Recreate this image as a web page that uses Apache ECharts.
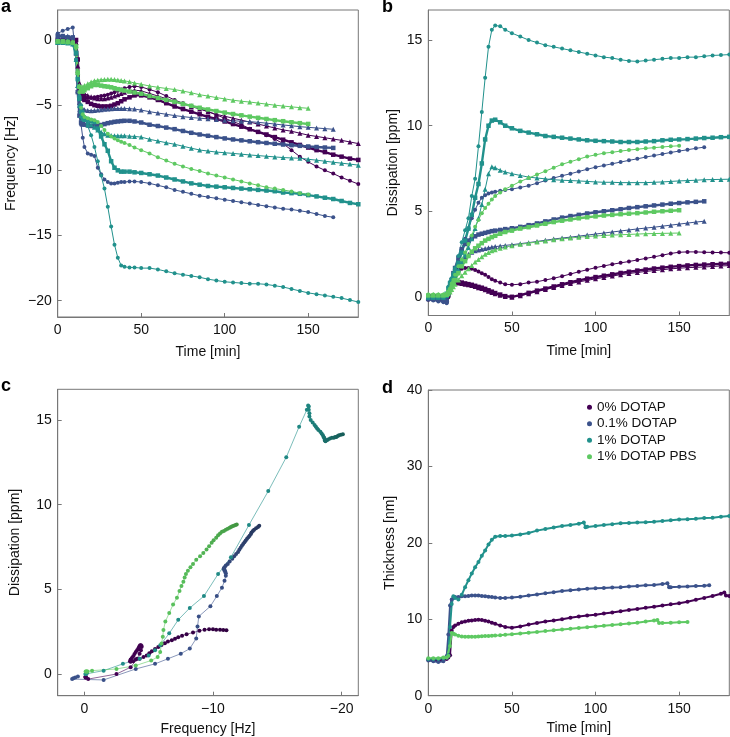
<!DOCTYPE html>
<html><head><meta charset="utf-8">
<script src="https://cdn.jsdelivr.net/npm/echarts@6/dist/echarts.min.js"></script>
<style>html,body{margin:0;padding:0;background:#fff}#c{width:730px;height:737px}</style>
</head><body><div id="c"></div>
<script>
// ---------- shared time grid (min) for panels a, b, c ----------
const time = [0,3,6,9,11, 12,13,14,15,16, 18,20,22,24,26,28, 30,32,34,36,38,40, 43,46,50,55,60, 65,70,75,80,85, 90,95,100,105,110, 115,120,125,130,135, 140,145,150, 155,160,165, 170,175,180];

// ---------- 0% DOTAP ----------
const f0_r1 = [-0.1,-0.1,-0.1,-0.1,-0.3, -2.5,-3.6,-4.1,-4.3,-4.4, -4.45,-4.45,-4.4,-4.35,-4.3,-4.25, -4.2,-4.1,-4.0,-3.9,-3.8,-3.7, -3.6,-3.55,-3.6,-3.8,-4.0, -4.3,-4.6,-4.85,-5.05,-5.25, -5.5,-5.75,-6.0,-6.26,-6.5, -6.8,-7.05,-7.3,-7.6,-7.95, -8.45,-8.95,-9.35, -9.7,-10.0,-10.25, -10.55,-10.8,-11.05];
const d0_r1 = [-0.15,-0.15,-0.2,-0.2,-0.3, 0.0,0.4,0.9,1.2,1.4, 1.6,1.66,1.7,1.7,1.65,1.58, 1.5,1.4,1.3,1.18,1.05,0.95, 0.85,0.76,0.72,0.76,0.85, 0.9,1.0,1.1,1.22,1.35, 1.48,1.6,1.72,1.82,1.92, 2.0,2.08,2.17,2.26,2.35, 2.45,2.55,2.62, 2.64,2.64,2.62, 2.61,2.6,2.59];
const f0_r2 = [0,0,0,0,0, -1.5,-3.8,-4.3,-4.5,-4.6, -4.75,-4.9,-5.0,-5.05,-5.1,-5.1, -5.1,-5.05,-4.95,-4.85,-4.7,-4.55, -4.4,-4.25,-4.25,-4.4,-4.6, -4.85,-5.1,-5.3,-5.5,-5.7, -5.9,-6.05,-6.25,-6.45,-6.65, -6.85,-7.05,-7.25,-7.45,-7.65, -7.85,-8.05,-8.25, -8.45,-8.6,-8.8, -8.95,-9.1,-9.2];
const d0_r2 = [0.05,0.05,0.0,0.0,-0.05, 0.2,0.5,0.75,0.85,0.9, 0.88,0.85,0.8,0.76,0.72,0.66, 0.6,0.55,0.48,0.4,0.32,0.24, 0.15,0.06,0.02,0.12,0.25, 0.38,0.5,0.62,0.75,0.87, 0.98,1.08,1.17,1.25,1.33, 1.41,1.48,1.55,1.61,1.67, 1.72,1.77,1.81, 1.85,1.88,1.9, 1.92,1.94,1.96];
const f0_r3 = [0.05,0.05,0.0,0.0,-0.2, -2.0,-3.3,-3.8,-4.0,-4.1, -4.25,-4.35,-4.45,-4.5,-4.5,-4.5, -4.45,-4.4,-4.3,-4.2,-4.1,-4.0, -3.9,-3.85,-3.9,-4.1,-4.3, -4.5,-4.7,-4.9,-5.1,-5.3, -5.5,-5.7,-5.85,-6.0,-6.15, -6.3,-6.45,-6.6,-6.75,-6.9, -7.0,-7.15,-7.3, -7.4,-7.5,-7.6, -7.7,-7.82,-7.95];
const d0_r3 = [0.0,0.0,-0.05,-0.05,-0.1, 0.15,0.45,0.7,0.8,0.85, 0.83,0.8,0.76,0.72,0.68,0.62, 0.55,0.5,0.43,0.35,0.27,0.2, 0.11,0.04,0.0,0.08,0.2, 0.32,0.44,0.56,0.68,0.79, 0.89,0.98,1.07,1.15,1.23, 1.31,1.38,1.44,1.5,1.55, 1.6,1.65,1.69, 1.72,1.74,1.76, 1.79,1.82,1.84];

// ---------- 0.1% DOTAP (ends at 165 min) ----------
const f1_r1 = [0.5,0.7,0.85,0.95,-1.5, -4.0,-5.5,-6.5,-7.5,-8.2, -8.7,-8.8,-8.9,-9.8,-10.3,-10.7, -10.9,-11.0,-11.0,-10.95,-10.9,-10.9, -10.85,-10.85,-10.9,-11.0,-11.15, -11.3,-11.5,-11.65,-11.8,-11.95, -12.05,-12.15,-12.25,-12.35,-12.45, -12.55,-12.65,-12.75,-12.85,-12.95, -13.0,-13.1,-13.2, -13.35,-13.5,-13.6];
const d1_r1 = [-0.15,-0.2,-0.25,-0.3,-0.35, 0.3,0.6,0.9,1.2,1.5, 2.1,2.8,3.4,4.0,4.6,5.1, 5.5,5.8,5.95,6.05,6.1,6.15, 6.2,6.25,6.3,6.4,6.5, 6.65,6.8,6.95,7.08,7.2, 7.33,7.46,7.58,7.68,7.78, 7.88,7.98,8.07,8.17,8.26, 8.35,8.44,8.52, 8.6,8.68,8.75];
const f1_r2 = [0.3,0.3,0.2,0.2,-1.0, -4.0,-5.8,-6.33,-6.45,-6.5, -6.55,-6.6,-6.6,-6.58,-6.52,-6.45, -6.38,-6.33,-6.28,-6.25,-6.22,-6.2, -6.2,-6.25,-6.33,-6.5,-6.6, -6.72,-6.84,-6.98,-7.12,-7.25, -7.35,-7.45,-7.55,-7.63,-7.7, -7.77,-7.84,-7.9,-7.96,-8.02, -8.07,-8.12,-8.17, -8.21,-8.25,-8.28];
const d1_r2 = [-0.1,-0.12,-0.15,-0.18,-0.2, 0.2,0.6,1.0,1.4,1.7, 2.3,2.8,3.1,3.3,3.45,3.55, 3.65,3.7,3.75,3.8,3.85,3.88, 3.92,3.97,4.02,4.1,4.2, 4.3,4.42,4.53,4.64,4.73, 4.8,4.88,4.95,5.01,5.07, 5.13,5.2,5.25,5.3,5.35, 5.4,5.45,5.49, 5.53,5.56,5.59];
const f1_r3 = [0.2,0.3,0.3,0.2,-1.0, -3.5,-4.8,-5.2,-5.3,-5.35, -5.4,-5.42,-5.4,-5.38,-5.35,-5.32, -5.3,-5.28,-5.26,-5.25,-5.25,-5.25, -5.27,-5.3,-5.38,-5.5,-5.6, -5.7,-5.8,-5.88,-5.95,-6.0, -6.05,-6.1,-6.15,-6.2,-6.23, -6.26,-6.32,-6.38,-6.45,-6.52, -6.58,-6.65,-6.7, -6.75,-6.8,-6.85];
const d1_r3 = [-0.05,-0.05,-0.08,-0.1,-0.1, 0.2,0.5,0.8,1.0,1.2, 1.6,2.0,2.3,2.5,2.62,2.7, 2.75,2.8,2.84,2.88,2.92,2.95, 2.98,3.02,3.06,3.12,3.18, 3.25,3.32,3.39,3.45,3.5, 3.56,3.62,3.68,3.74,3.8, 3.86,3.92,3.98,4.03,4.08, 4.14,4.2,4.26, 4.32,4.38,4.43];

// ---------- 1% DOTAP ----------
const f2_r1 = [-0.1,-0.1,-0.1,-0.2,-1.5, -3.0,-4.3,-5.0,-5.5,-5.9, -6.6,-7.3,-8.2,-9.3,-10.4,-11.4, -12.8,-14.3,-15.7,-16.7,-17.3,-17.4, -17.45,-17.45,-17.5,-17.5,-17.6, -17.75,-17.9,-18.0,-18.1,-18.2, -18.35,-18.45,-18.55,-18.6,-18.65, -18.7,-18.7,-18.75,-18.85,-18.95, -19.1,-19.25,-19.4, -19.5,-19.6,-19.7, -19.8,-19.95,-20.1];
const d2_r1 = [0.0,0.0,0.0,0.05,0.2, 0.6,0.9,1.1,1.4,1.7, 2.4,3.2,3.9,4.6,5.9,6.9, 8.8,10.8,12.8,14.6,15.6,15.85, 15.8,15.6,15.4,15.2,15.0, 14.85,14.7,14.6,14.5,14.4, 14.3,14.2,14.1,14.0,13.95, 13.85,13.78,13.75,13.8,13.85, 13.9,13.95,13.95, 14.0,14.0,14.05, 14.1,14.12,14.15];
const f2_r2 = [-0.2,-0.2,-0.25,-0.3,-1.0, -3.0,-4.5,-5.5,-5.9,-6.0, -6.1,-6.2,-6.3,-6.8,-7.4,-8.0, -8.5,-9.3,-9.8,-10.0,-10.1,-10.1, -10.1,-10.15,-10.2,-10.3,-10.4, -10.55,-10.7,-10.85,-11.0,-11.1, -11.2,-11.25,-11.3,-11.35,-11.4, -11.45,-11.5,-11.55,-11.6,-11.7, -11.75,-11.8,-11.9, -12.0,-12.1,-12.2, -12.35,-12.5,-12.6];
const d2_r2 = [0.0,0.0,0.0,0.05,0.2, 0.5,0.8,1.0,1.2,1.5, 2.0,2.6,3.3,4.0,4.8,5.8, 6.6,7.8,9.2,10.0,10.3,10.35, 10.2,10.0,9.85,9.7,9.6, 9.5,9.4,9.35,9.3,9.25, 9.2,9.15,9.12,9.1,9.08, 9.05,9.05,9.05,9.08,9.1, 9.15,9.18,9.2, 9.22,9.25,9.28, 9.3,9.33,9.35];
const f2_r3 = [-0.2,-0.2,-0.2,-0.3,-1.5, -3.5,-5.0,-5.8,-6.0,-6.1, -6.3,-6.5,-6.7,-6.9,-7.05,-7.2, -7.3,-7.33,-7.35,-7.35,-7.35,-7.35, -7.38,-7.4,-7.45,-7.62,-7.75, -7.88,-8.0,-8.15,-8.3,-8.44, -8.52,-8.6,-8.65,-8.7,-8.76, -8.82,-8.87,-8.92,-8.97,-9.02, -9.05,-9.07,-9.15, -9.22,-9.3,-9.38, -9.45,-9.52,-9.6];
const d2_r3 = [0.0,0.0,0.0,0.0,0.1, 0.4,0.7,0.9,1.05,1.2, 1.6,2.0,2.45,2.9,3.4,4.0, 4.6,5.4,6.3,7.2,7.6,7.55, 7.4,7.3,7.2,7.1,7.0, 6.95,6.9,6.85,6.82,6.8, 6.78,6.75,6.72,6.7,6.7, 6.68,6.68,6.68,6.68,6.7, 6.72,6.75,6.78, 6.8,6.82,6.85, 6.86,6.87,6.88];

// ---------- 1% DOTAP PBS (ends at 150 min) ----------
const f3_r1 = [-0.1,-0.15,-0.2,-0.25,-0.6, -2.5,-4.0,-5.2,-5.7,-5.9, -6.0,-6.1,-6.15,-6.3,-6.6,-6.9, -7.2,-7.4,-7.55,-7.7,-7.8,-7.9, -8.05,-8.25,-8.45,-8.7,-9.0, -9.25,-9.5,-9.7,-9.9,-10.05, -10.25,-10.4,-10.55,-10.7,-10.85, -11.0,-11.15,-11.3,-11.4,-11.5, -11.62,-11.75,-11.85];
const d3_r1 = [0.15,0.15,0.15,0.15,0.2, 0.3,0.5,0.8,1.0,1.3, 1.8,2.2,2.6,3.1,3.6,4.1, 4.5,4.9,5.2,5.45,5.7,5.9, 6.1,6.3,6.5,6.75,6.95, 7.15,7.35,7.55,7.75,7.9, 8.05,8.2,8.3,8.4,8.45, 8.52,8.58,8.63,8.68,8.72, 8.76,8.8,8.83];
const f3_r2 = [-0.1,-0.1,-0.15,-0.2,-0.5, -2.5,-3.6,-3.9,-3.96,-3.85, -3.7,-3.55,-3.45,-3.45,-3.5,-3.55, -3.58,-3.63,-3.7,-3.77,-3.83,-3.88, -3.95,-4.03,-4.12,-4.3,-4.45, -4.6,-4.73,-4.9,-5.05,-5.2, -5.33,-5.45,-5.57,-5.68,-5.78, -5.88,-5.97,-6.06,-6.15,-6.23, -6.31,-6.38,-6.44];
const d3_r2 = [0.1,0.1,0.1,0.1,0.15, 0.3,0.4,0.6,0.8,1.0, 1.4,1.8,2.1,2.4,2.65,2.85, 3.0,3.15,3.3,3.4,3.5,3.58, 3.7,3.8,3.88,4.0,4.08, 4.18,4.28,4.38,4.46,4.53, 4.6,4.66,4.71,4.76,4.8, 4.84,4.87,4.9,4.94,4.98, 5.01,5.04,5.07];
const f3_r3 = [-0.1,-0.1,-0.1,-0.15,-0.4, -2.5,-3.5,-3.7,-3.6,-3.5, -3.35,-3.22,-3.12,-3.08,-3.05,-3.03, -3.02,-3.02,-3.04,-3.07,-3.1,-3.14, -3.2,-3.3,-3.4,-3.53,-3.63, -3.72,-3.8,-3.92,-4.05,-4.2, -4.3,-4.42,-4.52,-4.62,-4.7, -4.76,-4.84,-4.92,-5.0,-5.07, -5.13,-5.19,-5.24];
const d3_r3 = [0.15,0.15,0.15,0.15,0.15, 0.2,0.3,0.45,0.6,0.75, 1.0,1.25,1.45,1.65,1.85,2.05, 2.2,2.35,2.5,2.6,2.7,2.77, 2.85,2.92,3.0,3.08,3.15, 3.22,3.28,3.35,3.4,3.45, 3.5,3.54,3.57,3.6,3.62, 3.64,3.66,3.68,3.7,3.71, 3.72,3.73,3.74];

// ---------- panel d: thickness (nm) ----------
const tH0 = [0,3,6,9,11,12,13,14,15,16,18,20,22,24,26,28,30,32,34,36,38,40,43,46,50,55,60,65,70,75,80,85,90,95,100,105,110,115,120,125,130,135,140,145,150,155,160,165,170,175,177,178,180];
const h0  = [4.7,4.7,4.6,4.7,4.8,5.0,5.3,8.5,9.0,9.2,9.4,9.6,9.7,9.8,9.85,9.9,9.95,9.9,9.8,9.7,9.55,9.4,9.2,9.0,8.9,9.05,9.3,9.5,9.7,9.85,10.0,10.2,10.35,10.5,10.6,10.75,10.9,11.05,11.2,11.35,11.5,11.65,11.8,11.95,12.1,12.3,12.55,12.8,13.05,13.35,13.5,13.1,13.05];
const tH1 = [0,3,6,9,11,12,13,14,15,16,18,20,22,24,26,28,30,32,34,36,38,40,43,46,50,55,60,65,70,75,80,85,90,95,100,105,110,115,120,125,130,135,140,143,144,145,150,155,160,165,168];
const h1  = [4.6,4.5,4.4,4.5,5.2,8.0,11.8,12.6,12.8,12.9,12.9,13.0,13.0,13.05,13.1,13.1,13.1,13.05,13.0,12.95,12.9,12.85,12.8,12.8,12.85,12.95,13.1,13.25,13.4,13.55,13.7,13.8,13.9,14.0,14.05,14.1,14.15,14.2,14.3,14.35,14.45,14.5,14.6,14.7,14.2,14.2,14.25,14.3,14.35,14.4,14.45];
const tH2 = [0,3,6,9,11,12,13,14,15,16,18,20,22,24,26,28,30,32,34,36,38,40,43,46,50,55,60,65,70,75,80,85,90,93,94,95,100,105,110,115,120,125,130,135,140,145,150,155,160,165,170,175,180];
const h2  = [4.8,4.8,4.8,4.9,5.0,5.3,9.0,12.0,13.0,12.8,12.6,13.2,14.2,15.1,16.0,16.8,17.5,18.3,19.0,19.8,20.4,20.8,20.9,20.9,20.95,21.1,21.3,21.6,21.8,22.0,22.2,22.35,22.5,22.65,22.05,22.1,22.2,22.35,22.45,22.55,22.6,22.65,22.7,22.75,22.85,22.95,23.05,23.1,23.15,23.25,23.3,23.4,23.5];
const tH3 = [0,3,6,9,11,12,13,14,15,16,18,20,22,24,26,28,30,32,34,36,38,40,43,46,50,55,60,65,70,75,80,85,90,95,100,105,110,115,120,125,130,135,137,138,140,145,150,155];
const h3  = [4.9,4.9,4.9,5.0,5.0,5.2,6.5,8.2,8.1,8.0,7.85,7.75,7.7,7.7,7.7,7.72,7.75,7.78,7.8,7.82,7.85,7.88,7.92,7.97,8.05,8.15,8.25,8.35,8.45,8.55,8.65,8.75,8.85,8.95,9.05,9.15,9.25,9.35,9.45,9.55,9.7,9.85,9.9,9.5,9.5,9.55,9.6,9.65];

// ---------- labels / ticks ----------
const names = ['0% DOTAP','0.1% DOTAP','1% DOTAP','1% DOTAP PBS'];
const timeTicks = [0,50,100,150];
const freqTicks = [-20,-15,-10,-5,0];
const dissTicks = [0,5,10,15];
const freqTicksC = [-20,-10,0];
const thickTicks = [0,10,20,30,40];

// ---------- styling ----------
const COLORS = ['#440154','#3b528b','#21918c','#5ec962'];
const DARK   = ['#300040','#243559','#175e5a','#3c8c3c'];
const SHAPES = ['circle','rect','triangle'];
const SIZES  = [4,4.5,5];
const WIDTHS = [1.0,2.4,1.0];
const FONT = 'Liberation Sans, Arial, Helvetica, sans-serif';
const AX = '#777777';

const FREQ = [[f0_r1,f0_r2,f0_r3],[f1_r1,f1_r2,f1_r3],[f2_r1,f2_r2,f2_r3],[f3_r1,f3_r2,f3_r3]];
const DISS = [[d0_r1,d0_r2,d0_r3],[d1_r1,d1_r2,d1_r3],[d2_r1,d2_r2,d2_r3],[d3_r1,d3_r2,d3_r3]];
const TH_T = [tH0,tH1,tH2,tH3];
const TH_V = [h0,h1,h2,h3];

const minus = v => (v < 0 ? '\u2212' + Math.abs(v) : String(v));
function axis(gi, o) {
  return {
    type: 'value', gridIndex: gi, min: o.min, max: o.max, inverse: !!o.inverse,
    name: o.name, nameLocation: 'middle', nameGap: o.gap,
    nameTextStyle: {color: '#111', fontSize: 14, fontFamily: FONT},
    axisLine: {show: true, onZero: false, lineStyle: {color: AX, width: 1}},
    axisTick: {show: true, inside: true, length: 4, customValues: o.ticks, lineStyle: {color: AX}},
    axisLabel: {show: true, customValues: o.ticks, color: '#111', fontSize: 14, fontFamily: FONT, margin: 6, formatter: minus},
    splitLine: {show: false}
  };
}

const grids = [
  {left: 57.7, top: 10, width: 300.6, height: 307},
  {left: 428.3, top: 10, width: 301, height: 305.5},
  {left: 57.7, top: 389.3, width: 300.6, height: 306.4},
  {left: 428.3, top: 390, width: 301, height: 305.7}
].map(g => Object.assign(g, {show: true, borderColor: AX, borderWidth: 1, containLabel: false}));

const xAxes = [
  axis(0, {min: 0, max: 180, ticks: timeTicks, name: 'Time [min]', gap: 28}),
  axis(1, {min: 0, max: 180, ticks: timeTicks, name: 'Time [min]', gap: 29}),
  axis(2, {min: -21.3, max: 2.07, inverse: true, ticks: freqTicksC, name: 'Frequency [Hz]', gap: 26}),
  axis(3, {min: 0, max: 180, ticks: timeTicks, name: 'Time [min]', gap: 25})
];
const yAxes = [
  axis(0, {min: -21.25, max: 2.3, ticks: freqTicks, name: 'Frequency [Hz]', gap: 40}),
  axis(1, {min: -1.07, max: 16.75, ticks: dissTicks, name: 'Dissipation [ppm]', gap: 28}),
  axis(2, {min: -1.28, max: 16.81, ticks: dissTicks, name: 'Dissipation [ppm]', gap: 36}),
  axis(3, {min: 0, max: 40, ticks: thickTicks, name: 'Thickness [nm]', gap: 31})
];

function pairs(xs, ys) {
  const out = [];
  for (let i = 0; i < ys.length; i++) if (ys[i] != null) out.push([xs[i], ys[i]]);
  return out;
}
const series = [];
const visualMaps = [];
function base(g, data, c, shape, size, width) {
  return {type: 'line', xAxisIndex: g, yAxisIndex: g, data, symbol: shape, symbolSize: size,
    showAllSymbol: true, silent: true, animation: false, emphasis: {disabled: true},
    itemStyle: {color: COLORS[c]}, lineStyle: {color: COLORS[c], width}};
}
// panels a and b
for (let c = 0; c < 4; c++) for (let r = 0; r < 3; r++) {
  series.push(Object.assign(base(0, pairs(time, FREQ[c][r]), c, SHAPES[r], SIZES[r], WIDTHS[r]), {name: 'a' + c + r}));
  series.push(Object.assign(base(1, pairs(time, DISS[c][r]), c, SHAPES[r], SIZES[r], WIDTHS[r]), {name: 'b' + c + r}));
}
// panel c: dissipation vs frequency, first replicate of each condition
for (let c = 0; c < 4; c++) {
  const f = FREQ[c][0], d = DISS[c][0];
  const data = [];
  for (let i = 0; i < d.length; i++) data.push([f[i], d[i], time[i]]);
  const s = base(2, data, c, 'circle', 4, 0.6);
  s.name = 'c' + c;
  s.encode = {x: 0, y: 1};
  visualMaps.push({type: 'continuous', show: false, dimension: 2, min: 0, max: 180,
    seriesIndex: series.length, inRange: {color: [COLORS[c], DARK[c]]}});
  series.push(s);
}
// panel d: thickness
for (let c = 0; c < 4; c++) {
  const s = base(3, pairs(TH_T[c], TH_V[c]), c, 'circle', 4, 2);
  s.name = names[c];
  series.push(s);
}

const letter = (t, x, y) => ({type: 'text', left: x, top: y, style: {text: t, font: 'bold 18px ' + FONT, fill: '#000'}});

const option = {
  backgroundColor: '#fff',
  animation: false,
  grid: grids, xAxis: xAxes, yAxis: yAxes, series, visualMap: visualMaps,
  legend: {data: names, left: 582, top: 395, orient: 'vertical', icon: 'circle', itemWidth: 5, itemHeight: 5,
    itemGap: 2, selectedMode: false, textStyle: {fontSize: 13.5, color: '#111', fontFamily: FONT, lineHeight: 14.5}},
  graphic: [letter('a', 1, -2), letter('b', 382, -2), letter('c', 1, 377), letter('d', 382, 379)]
};
const chart = echarts.init(document.getElementById('c'), null, {renderer: 'canvas'});
chart.setOption(option);
</script></body></html>
